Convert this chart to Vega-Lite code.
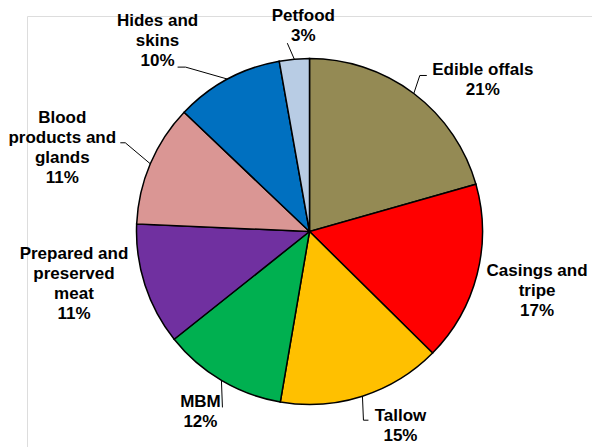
{
  "$schema": "https://vega.github.io/schema/vega-lite/v6.json",
  "width": 565,
  "height": 431,
  "autosize": {"type": "none"},
  "padding": {"left": 27, "top": 16, "right": 0, "bottom": 0},
  "background": "white",
  "data": {
    "values": [
      {"category": "Edible offals", "label": "Edible offals\n21%", "share": 20.6, "order": 1},
      {"category": "Casings and tripe", "label": "Casings and\ntripe\n17%", "share": 16.8, "order": 2},
      {"category": "Tallow", "label": "Tallow\n15%", "share": 15.3, "order": 3},
      {"category": "MBM", "label": "MBM\n12%", "share": 11.6, "order": 4},
      {"category": "Prepared and preserved meat", "label": "Prepared and\npreserved\nmeat\n11%", "share": 11.4, "order": 5},
      {"category": "Blood products and glands", "label": "Blood\nproducts and\nglands\n11%", "share": 11.4, "order": 6},
      {"category": "Hides and skins", "label": "Hides and\nskins\n10%", "share": 10.1, "order": 7},
      {"category": "Petfood", "label": "Petfood\n3%", "share": 2.8, "order": 8}
    ]
  },
  "transform": [
    {"window": [{"op": "sum", "field": "share", "as": "cum"}], "sort": [{"field": "order"}], "frame": [null, 0]},
    {"joinaggregate": [{"op": "sum", "field": "share", "as": "total"}]},
    {"calculate": "(datum.cum - datum.share / 2) / datum.total * 2 * PI", "as": "mid"},
    {"calculate": "width / 2 + 173 * sin(datum.mid)", "as": "rx"},
    {"calculate": "height / 2 - 173 * cos(datum.mid)", "as": "ry"},
    {"calculate": "datum.rx + [69, 60, 38, -21, -71, -88, -70, 9][datum.order - 1]", "as": "tx"},
    {"calculate": "datum.ry + [-23, -4, 20, 22, -31, -46, -58, -43][datum.order - 1]", "as": "ty"},
    {"calculate": "datum.rx + [6, 0, 1, 1, 0, -25, -42, -7][datum.order - 1]", "as": "ex"},
    {"calculate": "datum.ry + [-18, 0, 24, 27, 0, -21, -12, -16][datum.order - 1]", "as": "ey"},
    {"calculate": "datum.rx + [13, 0, 6, 1, 0, -30, -50, -7][datum.order - 1]", "as": "sx"}
  ],
  "layer": [
    {
      "mark": {"type": "arc", "outerRadius": 173, "stroke": "black", "strokeWidth": 1.5},
      "encoding": {
        "theta": {"field": "share", "type": "quantitative", "stack": true},
        "order": {"field": "order", "type": "quantitative"},
        "color": {
          "field": "category",
          "type": "nominal",
          "scale": {
            "domain": ["Edible offals", "Casings and tripe", "Tallow", "MBM", "Prepared and preserved meat", "Blood products and glands", "Hides and skins", "Petfood"],
            "range": ["#948A54", "#FF0000", "#FFC000", "#00B050", "#7030A0", "#DA9694", "#0070C0", "#B8CCE4"]
          },
          "legend": null
        }
      }
    },
    {
      "transform": [{"filter": "datum.order != 2 && datum.order != 5"}],
      "mark": {"type": "rule", "color": "black", "strokeWidth": 1},
      "encoding": {
        "x": {"field": "rx", "type": "quantitative", "scale": null},
        "y": {"field": "ry", "type": "quantitative", "scale": null},
        "x2": {"field": "ex"},
        "y2": {"field": "ey"}
      }
    },
    {
      "transform": [{"filter": "datum.order != 2 && datum.order != 5"}],
      "mark": {"type": "rule", "color": "black", "strokeWidth": 1},
      "encoding": {
        "x": {"field": "ex", "type": "quantitative", "scale": null},
        "y": {"field": "ey", "type": "quantitative", "scale": null},
        "x2": {"field": "sx"},
        "y2": {"field": "ey"}
      }
    },
    {
      "mark": {"type": "text", "font": "Liberation Sans", "fontWeight": "bold", "fontSize": 17, "lineBreak": "\n", "lineHeight": 20, "baseline": "middle", "align": "center", "color": "black"},
      "encoding": {
        "x": {"field": "tx", "type": "quantitative", "scale": null},
        "y": {"field": "ty", "type": "quantitative", "scale": null},
        "text": {"field": "label", "type": "nominal"}
      }
    }
  ]
}
